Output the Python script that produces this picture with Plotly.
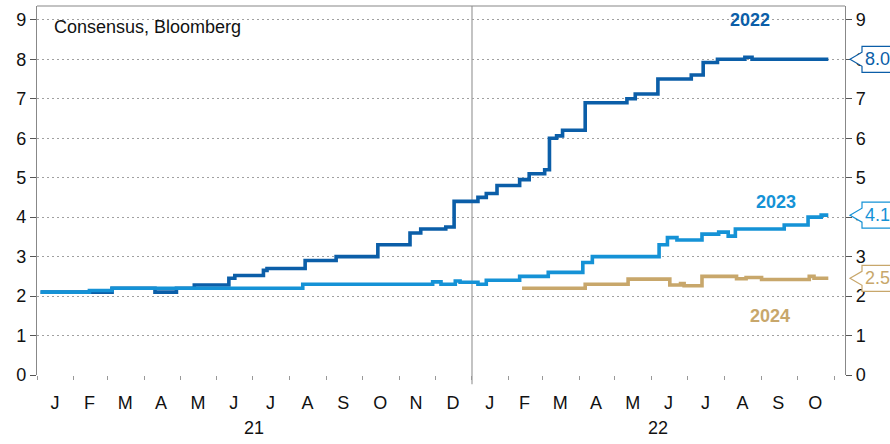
import plotly.graph_objects as go

# ---- data ----
dates_2022 = ["2021-01-04", "2021-03-05", "2021-04-10", "2021-04-28", "2021-05-13", "2021-06-11",
              "2021-06-16", "2021-07-10", "2021-07-13", "2021-08-14", "2021-09-09", "2021-10-14",
              "2021-11-10", "2021-11-19", "2021-12-10", "2021-12-17", "2022-01-06", "2022-01-13",
              "2022-01-22", "2022-02-10", "2022-02-18", "2022-03-03", "2022-03-07", "2022-03-13",
              "2022-03-18", "2022-04-06", "2022-05-11", "2022-05-18", "2022-06-06", "2022-07-04",
              "2022-07-14", "2022-07-26", "2022-08-18", "2022-08-24", "2022-10-27"]
vals_2022 = [2.1, 2.2, 2.1, 2.2, 2.28, 2.45,
             2.52, 2.65, 2.7, 2.9, 3.0, 3.3,
             3.6, 3.7, 3.75, 4.4, 4.5, 4.6,
             4.8, 4.95, 5.1, 5.2, 6.0, 6.06,
             6.2, 6.9, 7.0, 7.12, 7.5, 7.6,
             7.92, 8.0, 8.05, 8.0, 8.0]

dates_2023 = ["2021-01-04", "2021-02-14", "2021-03-05", "2021-08-12", "2021-11-29", "2021-12-06",
              "2021-12-18", "2021-12-22", "2022-01-06", "2022-01-13", "2022-02-10", "2022-03-06",
              "2022-04-04", "2022-04-12", "2022-06-07", "2022-06-14", "2022-06-22", "2022-07-13",
              "2022-07-27", "2022-08-04", "2022-08-10", "2022-09-20", "2022-10-10", "2022-10-21",
              "2022-10-27"]
vals_2023 = [2.1, 2.14, 2.2, 2.3, 2.36, 2.3,
             2.38, 2.35, 2.3, 2.4, 2.5, 2.6,
             2.85, 3.0, 3.3, 3.48, 3.42, 3.57,
             3.62, 3.52, 3.7, 3.8, 4.0, 4.05,
             4.05]

dates_2024 = ["2022-02-12", "2022-04-06", "2022-05-12", "2022-06-16", "2022-06-25", "2022-06-28",
              "2022-07-13", "2022-08-11", "2022-08-19", "2022-09-01", "2022-10-11", "2022-10-15",
              "2022-10-27"]
vals_2024 = [2.2, 2.3, 2.43, 2.28, 2.32, 2.26,
             2.5, 2.44, 2.47, 2.42, 2.5, 2.45,
             2.45]

series_names = ["2022", "2023", "2024"]
series_colors = ["#0b5ea8", "#1592d6", "#c8a76b"]
last_labels = ["8.0", "4.1", "2.5"]
label_pos_dates = ["2022-08-22", "2022-09-13", "2022-09-08"]
label_pos_vals = [9.0, 4.39, 1.5]

month_tick_dates = ["2021-01-16", "2021-02-14", "2021-03-16", "2021-04-15", "2021-05-16", "2021-06-15",
                    "2021-07-16", "2021-08-16", "2021-09-15", "2021-10-16", "2021-11-15", "2021-12-16",
                    "2022-01-16", "2022-02-14", "2022-03-16", "2022-04-15", "2022-05-16", "2022-06-15",
                    "2022-07-16", "2022-08-16", "2022-09-15", "2022-10-16"]
month_tick_text = ["J", "F", "M", "A", "M", "J", "J", "A", "S", "O", "N", "D",
                   "J", "F", "M", "A", "M", "J", "J", "A", "S", "O"]
year_tick_dates = ["2021-07-02", "2022-06-06"]
year_tick_text = ["21", "22"]
x_range = ["2021-01-01", "2022-11-10"]
y_range = [0, 9.35]
y_ticks = [0, 1, 2, 3, 4, 5, 6, 7, 8, 9]

FONT = "Liberation Sans, Arial, sans-serif"
fig = go.Figure()

all_dates = [dates_2022, dates_2023, dates_2024]
all_vals = [vals_2022, vals_2023, vals_2024]
for name, d, v, c in zip(series_names, all_dates, all_vals, series_colors):
    fig.add_trace(go.Scatter(x=d, y=v, mode="lines", name=name,
                             line=dict(color=c, width=3.6, shape="hv"),
                             showlegend=False, hoverinfo="skip"))

# dummy trace so the year axis is drawn
fig.add_trace(go.Scatter(x=year_tick_dates, y=[None, None], xaxis="x2", mode="lines",
                         showlegend=False, hoverinfo="skip"))

# series name labels
for name, xd, yv, c in zip(series_names, label_pos_dates, label_pos_vals, series_colors):
    fig.add_annotation(x=xd, y=yv, text="<b>%s</b>" % name, showarrow=False,
                       font=dict(family=FONT, size=18, color=c), xanchor="center", yanchor="middle")

# right-side callouts
callout_path = "M 5,0 L 17,7 L 17,13 L 80,13 L 80,-13 L 17,-13 L 17,-7 Z"
for lab, v, c in zip(last_labels, all_vals, series_colors):
    yv = v[-1]
    fig.add_shape(type="path", xref="paper", yref="y", xsizemode="pixel", ysizemode="pixel",
                  xanchor=1, yanchor=yv, path=callout_path,
                  fillcolor="white", line=dict(color=c, width=1.2), layer="above")
    fig.add_annotation(xref="paper", yref="y", x=1, y=yv, xshift=18, text=lab, showarrow=False,
                       xanchor="left", yanchor="middle",
                       font=dict(family=FONT, size=18, color=c))

fig.add_annotation(xref="paper", yref="paper", x=0.019, y=0.944, text="Consensus, Bloomberg",
                   showarrow=False, xanchor="left", yanchor="middle",
                   font=dict(family=FONT, size=18, color="#111"))

# year divider and top frame
fig.add_shape(type="line", xref="x", yref="paper", x0="2022-01-01", x1="2022-01-01", y0=-0.025, y1=1,
              line=dict(color="#b0b0b0", width=1.5), layer="below")
fig.add_shape(type="line", xref="paper", yref="paper", x0=0, x1=1, y0=1, y1=1,
              line=dict(color="#888", width=1.2))

axis_font = dict(family=FONT, size=18, color="#111")
fig.update_layout(
    width=890, height=444,
    margin=dict(l=37, r=45, t=6, b=61),
    paper_bgcolor="white", plot_bgcolor="white",
    font=axis_font,
    xaxis=dict(type="date", range=x_range, tickmode="array", tickvals=month_tick_dates,
               ticktext=month_tick_text, ticks="", showgrid=False, zeroline=False, showline=False,
               ticklabelstandoff=15, tickfont=axis_font,
               minor=dict(dtick="M1", tick0="2021-01-01", ticks="outside", ticklen=4,
                          tickcolor="#999", showgrid=False)),
    xaxis2=dict(type="date", range=x_range, overlaying="x", anchor="y", side="bottom",
                tickmode="array", tickvals=year_tick_dates, ticktext=year_tick_text,
                ticks="", showgrid=False, zeroline=False, showline=False,
                ticklabelstandoff=40, tickfont=axis_font),
    yaxis=dict(range=y_range, tickmode="array", tickvals=y_ticks, showgrid=True,
               gridcolor="#a0a0a0", griddash="2px,3px", gridwidth=1, zeroline=False,
               showline=True, linecolor="#888", linewidth=1.2, ticks="outside", ticklen=6,
               tickcolor="#555", tickfont=axis_font),
    yaxis2=dict(range=y_range, overlaying="y", side="right", anchor="x", tickmode="array",
                tickvals=y_ticks, showgrid=False, zeroline=False, showline=True, linecolor="#888",
                linewidth=1.2, ticks="outside", ticklen=6, tickcolor="#555", tickfont=axis_font),
)
# dummy trace for right axis
fig.add_trace(go.Scatter(x=year_tick_dates, y=[None, None], yaxis="y2", mode="lines",
                         showlegend=False, hoverinfo="skip"))

fig.write_html("out.html", config={"displayModeBar": False},
               post_script="document.body.style.margin='0px';")
